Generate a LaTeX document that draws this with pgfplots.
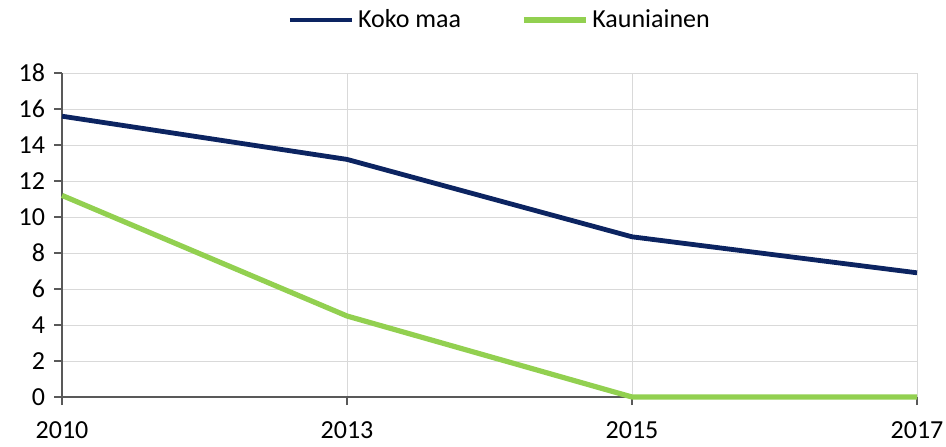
\documentclass[border=0pt]{standalone}
\usepackage{pgfplots}
\pgfplotsset{compat=1.18}
\usepackage{fontspec}
\setmainfont{Carlito}
\definecolor{navy}{HTML}{0C2461}
\definecolor{lgreen}{HTML}{92D050}
\definecolor{gridc}{HTML}{D9D9D9}
\definecolor{axc}{HTML}{595959}
\begin{document}
\begin{tikzpicture}
\path[use as bounding box] (0,0) rectangle (473pt,223pt);
\begin{axis}[
  scale only axis,
  width=427.5pt, height=162pt,
  at={(31pt,24.5pt)}, anchor=south west,
  xmin=0, xmax=3, ymin=0, ymax=18,
  xtick={0,1,2,3}, xticklabels={2010,2013,2015,2017},
  ytick={0,2,...,18},
  axis lines*=left,
  axis line style={axc, line width=0.75pt},
  tick align=outside,
  major tick length=4pt,
  tick style={axc, line width=0.6pt},
  grid=major,
  major grid style={gridc, line width=0.5pt},
  /pgf/number format/assume math mode=true,
  tick label style={font=\fontsize{13}{15}\selectfont, black},
  xticklabel style={yshift=-7.8pt, inner ysep=0.5pt},
  yticklabel style={xshift=-1pt},
  clip=false,
  legend style={at={(0.513,1)}, anchor=center, yshift=26.5pt, draw=none,
    font=\fontsize{13}{15}\selectfont, legend columns=2,
    /tikz/every even column/.append style={column sep=28pt},
    /tikz/every odd column/.append style={inner xsep=0pt}},
  legend image code/.code={\draw[#1] (0pt,0pt) -- (31pt,0pt);},
  legend cell align=left,
]
\addplot[navy, line width=2.4pt] coordinates {(0,15.6) (1,13.2) (2,8.9) (3,6.9)};
\addlegendentry{Koko maa}
\addplot[lgreen, line width=2.6pt] coordinates {(0,11.2) (1,4.5) (2,0) (3,0)};
\addlegendentry{Kauniainen}
\end{axis}
\end{tikzpicture}
\end{document}
